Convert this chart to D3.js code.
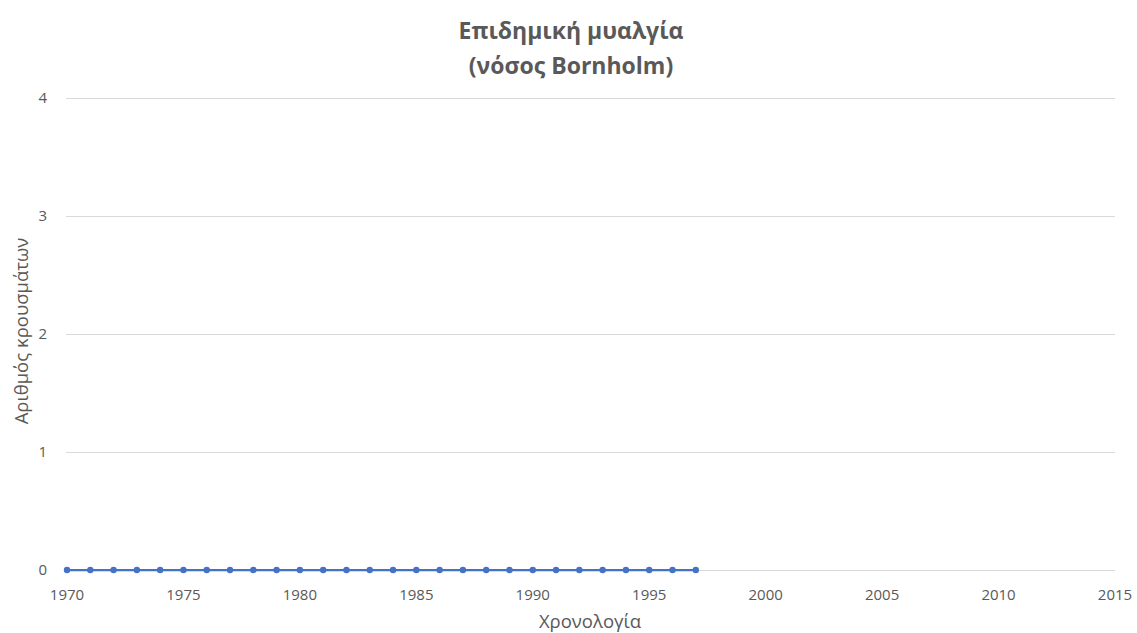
<!DOCTYPE html>
<html>
<head>
<meta charset="utf-8">
<script src="https://cdn.jsdelivr.net/npm/d3@7"></script>
<style>
  body { margin: 0; background: #fff; }
  text { font-family: "Open Sans", "Noto Sans", sans-serif; fill: #595959; }
</style>
</head>
<body>
<div id="chart"></div>
<script>
// Yearly case counts, Bornholm disease
const years = [1970, 1971, 1972, 1973, 1974, 1975, 1976, 1977, 1978, 1979,
               1980, 1981, 1982, 1983, 1984, 1985, 1986, 1987, 1988, 1989,
               1990, 1991, 1992, 1993, 1994, 1995, 1996, 1997];
const cases = [0, 0, 0, 0, 0, 0, 0, 0, 0, 0,
               0, 0, 0, 0, 0, 0, 0, 0, 0, 0,
               0, 0, 0, 0, 0, 0, 0, 0];
const xTicks = [1970, 1975, 1980, 1985, 1990, 1995, 2000, 2005, 2010, 2015];
const yTicks = [0, 1, 2, 3, 4];

const width = 1137, height = 633;
const margin = { left: 67, right: 22, top: 98, bottom: 63 };

const svg = d3.select('#chart').append('svg')
    .attr('width', width)
    .attr('height', height);

const x = d3.scaleLinear().domain([1970, 2015]).range([margin.left, width - margin.right]);
const y = d3.scaleLinear().domain([0, 4]).range([height - margin.bottom, margin.top]);

// gridlines
svg.append('g').selectAll('line')
    .data(yTicks)
    .enter().append('line')
    .attr('x1', margin.left - 1)
    .attr('x2', width - margin.right)
    .attr('y1', d => Math.round(y(d)) + 0.5)
    .attr('y2', d => Math.round(y(d)) + 0.5)
    .attr('stroke', '#d9d9d9')
    .attr('stroke-width', 1);

// y tick labels
svg.append('g').selectAll('text')
    .data(yTicks)
    .enter().append('text')
    .attr('x', margin.left - 20)
    .attr('y', d => y(d))
    .attr('dy', '0.35em')
    .attr('text-anchor', 'end')
    .attr('font-size', '15px')
    .text(d => d);

// x tick labels
svg.append('g').selectAll('text')
    .data(xTicks)
    .enter().append('text')
    .attr('x', d => x(d))
    .attr('y', height - margin.bottom + 30)
    .attr('text-anchor', 'middle')
    .attr('font-size', '15px')
    .text(d => d);

// series line + markers
const line = d3.line().x((d, i) => x(years[i])).y(d => y(d));
svg.append('path')
    .datum(cases)
    .attr('d', line)
    .attr('fill', 'none')
    .attr('stroke', '#4472c4')
    .attr('stroke-width', 2.25);

svg.append('g').selectAll('circle')
    .data(cases)
    .enter().append('circle')
    .attr('cx', (d, i) => x(years[i]))
    .attr('cy', d => y(d))
    .attr('r', 3.2)
    .attr('fill', '#4472c4');

// title
svg.append('text')
    .attr('x', 571).attr('y', 39)
    .attr('text-anchor', 'middle')
    .attr('font-size', '23px')
    .attr('font-weight', 'bold')
    .text('Επιδημική μυαλγία');
svg.append('text')
    .attr('x', 571).attr('y', 74)
    .attr('text-anchor', 'middle')
    .attr('font-size', '23px')
    .attr('font-weight', 'bold')
    .text('(νόσος Bornholm)');

// axis titles
svg.append('text')
    .attr('x', 590).attr('y', 628)
    .attr('text-anchor', 'middle')
    .attr('font-size', '18.5px')
    .text('Χρονολογία');
svg.append('text')
    .attr('transform', 'translate(28,331) rotate(-90)')
    .attr('text-anchor', 'middle')
    .attr('font-size', '18.5px')
    .text('Αριθμός κρουσμάτων');
</script>
</body>
</html>
